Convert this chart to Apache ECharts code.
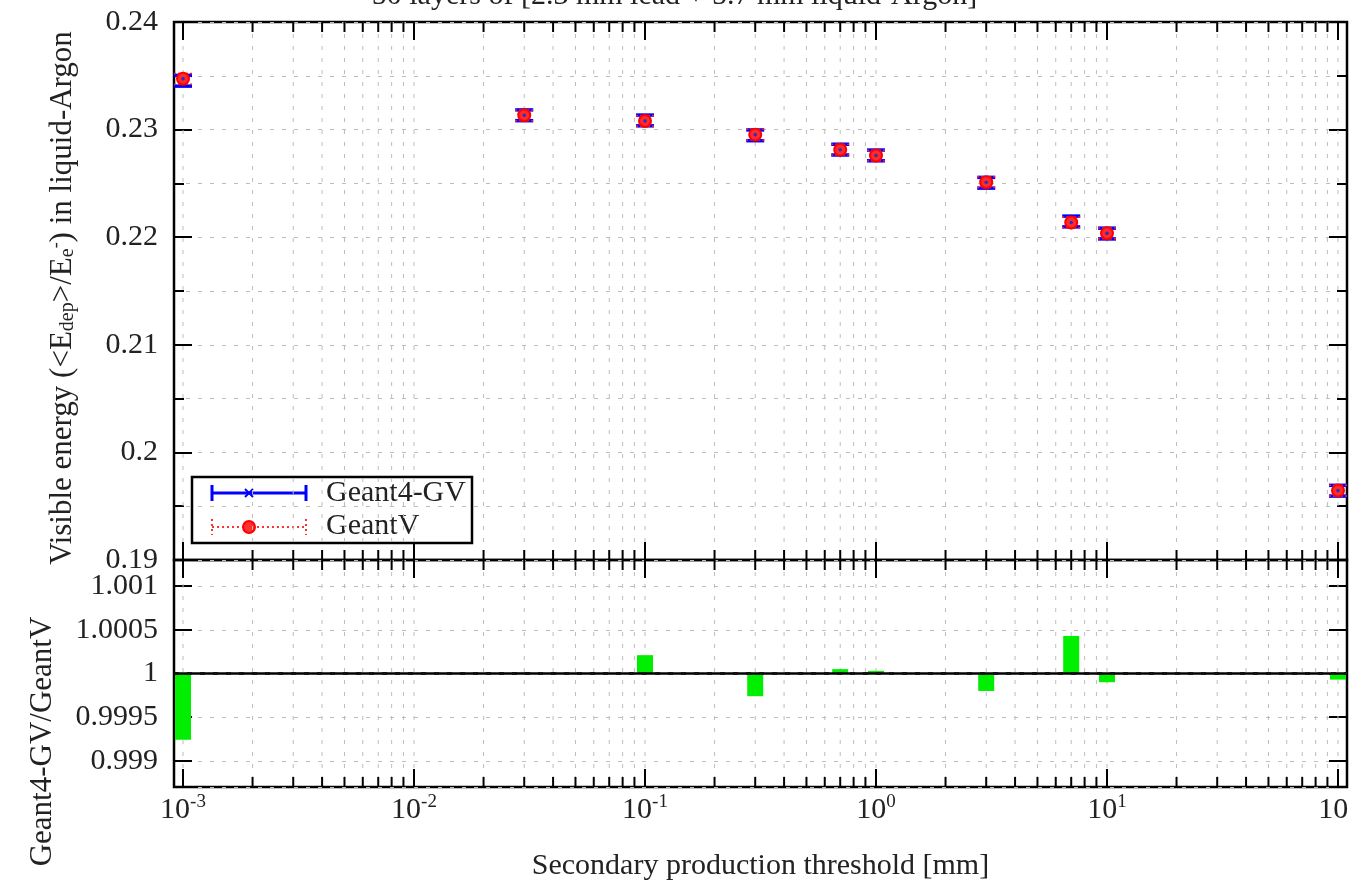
<!DOCTYPE html>
<html>
<head>
<meta charset="utf-8" />
<title>Visible energy vs secondary production threshold</title>
<script src="https://cdn.jsdelivr.net/npm/echarts@6/dist/echarts.min.js"></script>
<style>
  body { margin: 0; background: #fff; }
  #chart { width: 1349px; height: 883px; }
</style>
</head>
<body>
<div id="chart"></div>
<script>
// secondary production thresholds [mm]
const thresholds = [0.001, 0.03, 0.1, 0.3, 0.7, 1, 3, 7, 10, 100];
// visible energy fraction <Edep>/Ee- in liquid argon
const g4gvEdep   = [0.23454, 0.23133, 0.23085, 0.22947, 0.22814, 0.22760, 0.22506, 0.22146, 0.22034, 0.19644];
const geantvEdep = [0.23472, 0.23133, 0.23080, 0.22953, 0.22813, 0.22759, 0.22511, 0.22137, 0.22036, 0.19645];
const edepErr    = [0.0005, 0.0005, 0.0005, 0.0005, 0.0005, 0.0005, 0.0005, 0.0005, 0.0005, 0.0005];
// Geant4-GV / GeantV
const ratio = [0.99924, 1.00001, 1.00021, 0.99974, 1.00005, 1.00003, 0.99980, 1.00043, 0.99990, 0.99993];

const xDecades = [0.001, 0.01, 0.1, 1, 10, 100];
const topYLabels = ['0.19', '0.2', '0.21', '0.22', '0.23', '0.24'];
const ratioYLabels = ['0.999', '0.9995', '1', '1.0005', '1.001'];

const FONT = 'Liberation Serif';
const X_MIN = 0.000914, X_MAX = 109.4;

// log tick positions: decades are major, 2..9 are minor
const xTicks = [];
xDecades.forEach((d, i) => {
  xTicks.push([d, 1]);
  if (i < xDecades.length - 1) {
    for (let k = 2; k <= 9; k++) xTicks.push([+(d * k).toPrecision(3), 0]);
  }
});

function tickRender(yVal) {
  return function (params, api) {
    const cs = params.coordSys;
    const x = api.coord([api.value(0), yVal])[0];
    const len = api.value(1) === 1 ? 18 : 10;
    const kids = [];
    if (x > cs.x + 3 && x < cs.x + cs.width - 3) {
      kids.push({ type: 'line', shape: { x1: x, y1: cs.y, x2: x, y2: cs.y + cs.height },
        style: { stroke: '#bdbdbd', lineWidth: 1, lineDash: [4, 8] } });
    }
    kids.push({ type: 'line', shape: { x1: x, y1: cs.y + cs.height, x2: x, y2: cs.y + cs.height - len },
      style: { stroke: '#000', lineWidth: 2 } });
    kids.push({ type: 'line', shape: { x1: x, y1: cs.y, x2: x, y2: cs.y + len },
      style: { stroke: '#000', lineWidth: 2 } });
    return { type: 'group', children: kids };
  };
}

function g4Render(params, api) {
  const x = api.value(0), y = api.value(1), e = api.value(2);
  const t = api.coord([x, y + e]), b = api.coord([x, y - e]), c = api.coord([x, y]);
  const hw = 9, st = { stroke: '#0000ff', lineWidth: 3.5 };
  return { type: 'group', children: [
    { type: 'line', shape: { x1: c[0], y1: t[1], x2: c[0], y2: b[1] }, style: st },
    { type: 'line', shape: { x1: c[0] - hw, y1: t[1], x2: c[0] + hw, y2: t[1] }, style: st },
    { type: 'line', shape: { x1: c[0] - hw, y1: b[1], x2: c[0] + hw, y2: b[1] }, style: st }
  ] };
}

function gvRender(params, api) {
  const x = api.value(0), y = api.value(1), e = api.value(2);
  const t = api.coord([x, y + e]), b = api.coord([x, y - e]), c = api.coord([x, y]);
  const hw = 9, st = { stroke: '#ff2020', lineWidth: 1.5, lineDash: [2, 2] };
  return { type: 'group', children: [
    { type: 'line', shape: { x1: c[0] - hw, y1: t[1], x2: c[0] + hw, y2: t[1] }, style: st },
    { type: 'line', shape: { x1: c[0] - hw, y1: b[1], x2: c[0] + hw, y2: b[1] }, style: st },
    { type: 'circle', shape: { cx: c[0], cy: c[1], r: 6 }, style: { fill: '#ff2a2a', stroke: '#ff0000', lineWidth: 2 } },
    { type: 'circle', shape: { cx: c[0], cy: c[1], r: 1.8 }, style: { fill: '#3030c0' } }
  ] };
}

function ratioRender(params, api) {
  const x = api.value(0), r = api.value(1);
  const p1 = api.coord([x, 1]), p2 = api.coord([x, r]);
  const w = 16;
  return { type: 'rect', shape: { x: p1[0] - w / 2, y: Math.min(p1[1], p2[1]), width: w, height: Math.max(Math.abs(p2[1] - p1[1]), 1) },
    style: { fill: '#00ee00' } };
}

function matchLabel(list, v) {
  for (const l of list) if (Math.abs(parseFloat(l) - v) < 1e-7) return l;
  return '';
}

const gridLine = { show: true, lineStyle: { color: '#bdbdbd', type: [4, 8], width: 1 } };
const tickStyle = { color: '#000', width: 2 };

const chart = echarts.init(document.getElementById('chart'));
chart.setOption({
  animation: false,
  textStyle: { fontFamily: FONT },
  grid: [
    { left: 174, right: 2, top: 22, height: 538, show: true, borderColor: '#000', borderWidth: 2.5,
      backgroundColor: 'transparent', outerBoundsMode: 'none', containLabel: false },
    { left: 174, right: 2, top: 560, height: 227, show: true, borderColor: '#000', borderWidth: 2.5,
      backgroundColor: 'transparent', outerBoundsMode: 'none', containLabel: false }
  ],
  xAxis: [
    { gridIndex: 0, type: 'log', min: X_MIN, max: X_MAX, axisLine: { show: false }, axisTick: { show: false },
      axisLabel: { show: false }, splitLine: { show: false } },
    { gridIndex: 1, type: 'log', min: X_MIN, max: X_MAX, axisLine: { show: false }, axisTick: { show: false },
      splitLine: { show: false },
      name: 'Secondary production threshold [mm]', nameLocation: 'middle', nameGap: 64,
      nameTextStyle: { fontFamily: FONT, fontSize: 30, color: '#222' },
      axisLabel: {
        margin: 6, color: '#222', fontFamily: FONT, fontSize: 30,
        showMinLabel: true, showMaxLabel: true,
        formatter: v => {
          const e = Math.log10(v);
          return Math.abs(e - Math.round(e)) < 1e-6 ? '10{sup|' + Math.round(e) + '}' : '';
        },
        rich: { sup: { fontSize: 19, fontFamily: FONT, color: '#222', verticalAlign: 'top', lineHeight: 34 } }
      } }
  ],
  yAxis: [
    { gridIndex: 0, type: 'value', min: 0.19, max: 0.24, interval: 0.01,
      axisLine: { show: false },
      axisTick: { show: true, inside: true, length: 18, lineStyle: tickStyle },
      minorTick: { show: true, splitNumber: 2, length: 10, lineStyle: tickStyle },
      splitLine: gridLine, minorSplitLine: gridLine,
      axisLabel: { margin: 16, fontSize: 30, color: '#222', fontFamily: FONT, formatter: v => matchLabel(topYLabels, v) },
      name: 'Visible energy (<E{sub|dep}>/E{sub|e}{sup|-}) in liquid-Argon', nameLocation: 'middle', nameGap: 96,
      nameTextStyle: { fontSize: 31, color: '#222', fontFamily: FONT, padding: [0, 14, 0, 0],
        rich: { sub: { fontSize: 20, fontFamily: FONT, color: '#222', verticalAlign: 'bottom' },
                sup: { fontSize: 18, fontFamily: FONT, color: '#222', verticalAlign: 'top' } } } },
    { gridIndex: 0, type: 'value', position: 'right', min: 0.19, max: 0.24, interval: 0.01,
      axisLine: { show: false }, axisLabel: { show: false }, splitLine: { show: false },
      axisTick: { show: true, inside: true, length: 18, lineStyle: tickStyle },
      minorTick: { show: true, splitNumber: 2, length: 10, lineStyle: tickStyle } },
    { gridIndex: 1, type: 'value', min: 0.9987, max: 1.0013, splitNumber: 5,
      axisLine: { show: false },
      axisTick: { show: true, inside: true, length: 18, lineStyle: tickStyle },
      splitLine: gridLine,
      axisLabel: { margin: 16, fontSize: 30, color: '#222', fontFamily: FONT, formatter: v => matchLabel(ratioYLabels, v) },
      name: 'Geant4-GV/GeantV', nameLocation: 'middle', nameGap: 116,
      nameTextStyle: { fontSize: 31, color: '#222', fontFamily: FONT, padding: [0, 136, 0, 0] } },
    { gridIndex: 1, type: 'value', position: 'right', min: 0.9987, max: 1.0013, splitNumber: 5,
      axisLine: { show: false }, axisLabel: { show: false }, splitLine: { show: false },
      axisTick: { show: true, inside: true, length: 18, lineStyle: tickStyle } }
  ],
  series: [
    { type: 'custom', name: 'xticksTop', xAxisIndex: 0, yAxisIndex: 0, z: 1, silent: true,
      renderItem: tickRender(0.2), data: xTicks },
    { type: 'custom', name: 'xticksBottom', xAxisIndex: 1, yAxisIndex: 2, z: 1, silent: true,
      renderItem: tickRender(1), data: xTicks },
    { type: 'custom', name: 'Geant4-GV', xAxisIndex: 0, yAxisIndex: 0, z: 3,
      renderItem: g4Render, data: thresholds.map((t, i) => [t, g4gvEdep[i], edepErr[i]]) },
    { type: 'custom', name: 'GeantV', xAxisIndex: 0, yAxisIndex: 0, z: 4,
      renderItem: gvRender, data: thresholds.map((t, i) => [t, geantvEdep[i], edepErr[i]]) },
    { type: 'custom', name: 'ratio', xAxisIndex: 1, yAxisIndex: 2, z: 3,
      renderItem: ratioRender, data: thresholds.map((t, i) => [t, ratio[i]]),
      markLine: { silent: true, symbol: 'none', label: { show: false }, animation: false,
        data: [
          { yAxis: 1, lineStyle: { color: '#000', width: 2.5, type: 'solid' } },
          { yAxis: 1.001, lineStyle: { color: '#111', width: 2.5, type: [5, 8] } },
          { yAxis: 0.999, lineStyle: { color: '#111', width: 2.5, type: [5, 8] } }
        ] } }
  ],
  graphic: [
    { type: 'text', left: 'center', top: -19, style: { text: '50 layers of [2.3 mm lead + 5.7 mm liquid-Argon]', font: '30px "Liberation Serif"', fill: '#222' } },
    { type: 'group', z: 20, children: [
      { type: 'rect', shape: { x: 192, y: 477, width: 280, height: 66 }, style: { fill: '#fff', stroke: '#000', lineWidth: 2.5 } },
      { type: 'line', shape: { x1: 212, y1: 493, x2: 306, y2: 493 }, style: { stroke: '#0000ff', lineWidth: 3 } },
      { type: 'line', shape: { x1: 212, y1: 485, x2: 212, y2: 501 }, style: { stroke: '#0000ff', lineWidth: 3 } },
      { type: 'line', shape: { x1: 306, y1: 485, x2: 306, y2: 501 }, style: { stroke: '#0000ff', lineWidth: 3 } },
      { type: 'line', shape: { x1: 245, y1: 489, x2: 253, y2: 497 }, style: { stroke: '#0000ff', lineWidth: 2 } },
      { type: 'line', shape: { x1: 245, y1: 497, x2: 253, y2: 489 }, style: { stroke: '#0000ff', lineWidth: 2 } },
      { type: 'text', x: 326, y: 493, style: { text: 'Geant4-GV', font: '30px "Liberation Serif"', fill: '#222', verticalAlign: 'middle' } },
      { type: 'line', shape: { x1: 212, y1: 527, x2: 306, y2: 527 }, style: { stroke: '#ff3030', lineWidth: 2, lineDash: [2, 3] } },
      { type: 'line', shape: { x1: 212, y1: 519, x2: 212, y2: 535 }, style: { stroke: '#ff3030', lineWidth: 2, lineDash: [2, 3] } },
      { type: 'line', shape: { x1: 306, y1: 519, x2: 306, y2: 535 }, style: { stroke: '#ff3030', lineWidth: 2, lineDash: [2, 3] } },
      { type: 'circle', shape: { cx: 249, cy: 527, r: 6 }, style: { fill: '#ff3030', stroke: '#ff0000', lineWidth: 2 } },
      { type: 'text', x: 326, y: 526, style: { text: 'GeantV', font: '30px "Liberation Serif"', fill: '#222', verticalAlign: 'middle' } }
    ] }
  ]
});
</script>
</body>
</html>
